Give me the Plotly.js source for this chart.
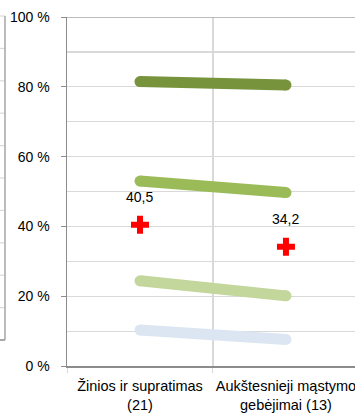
<!DOCTYPE html>
<html>
<head>
<meta charset="utf-8">
<script src="https://cdn.plot.ly/plotly-3.0.1.min.js"></script>
<style>html,body{margin:0;padding:0;background:#fff;}#chart{width:355px;height:414px;}</style>
</head>
<body>
<div id="chart"></div>
<script>
const categories = ["Žinios ir supratimas<br>(21)", "Aukštesnieji mąstymo<br>gebėjimai (13)"];
const series90 = [81.5, 80.5];
const series75 = [53.0, 49.7];
const series50 = [24.4, 20.1];
const series25 = [10.3, 7.6];
const average = [40.5, 34.2];
const yTickValues = [0, 20, 40, 60, 80, 100];

const bandColors = ["#77933C", "#9BBB59", "#C3D69B", "#DCE6F2"];
const bandSeries = [series90, series75, series50, series25];

const traces = bandSeries.map((vals, i) => ({
  type: "scatter",
  mode: "lines+markers",
  x: categories,
  y: vals,
  line: {color: bandColors[i], width: 11},
  marker: {color: bandColors[i], size: 11, symbol: "circle"},
  hoverinfo: "skip",
  cliponaxis: false
}));

traces.push({
  type: "scatter",
  mode: "markers",
  x: categories,
  y: average,
  marker: {color: "#FF0000", size: 15, symbol: "cross", line: {width: 0}},
  cliponaxis: false
});

const annotations = average.map((v, i) => ({
  x: categories[i],
  y: v,
  xref: "x",
  yref: "y",
  text: v.toFixed(1).replace(".", ","),
  showarrow: false,
  yshift: 28,
  font: {family: "Liberation Sans, Arial, sans-serif", size: 14, color: "#000"}
}));

// fragment of neighbouring chart at far left
const shapes = [];
const fragX = -0.2153, fragX0 = -0.24;
for (let k = 0; k <= 10; k++) {
  const yp = (366 - (340 - k * 32.4)) / 349;
  shapes.push({type: "line", xref: "paper", yref: "paper", x0: fragX0, x1: fragX, y0: yp, y1: yp,
    line: {color: k === 0 ? "#8C8C8C" : "#D9D9D9", width: k === 0 ? 1.5 : 1.2}});
}
shapes.push({type: "line", xref: "paper", yref: "paper", x0: fragX, x1: fragX,
  y0: (366 - 340) / 349, y1: (366 - 16) / 349, line: {color: "#A6A6A6", width: 1.5}});
// top border line at 100 %
shapes.push({type: "line", xref: "paper", yref: "y", x0: 0, x1: 1, y0: 100, y1: 100,
  line: {color: "#A6A6A6", width: 1.3}});

const layout = {
  width: 355,
  height: 414,
  margin: {l: 67, r: 0, t: 17, b: 48},
  paper_bgcolor: "#FFFFFF",
  plot_bgcolor: "#FFFFFF",
  showlegend: false,
  font: {family: "Liberation Sans, Arial, sans-serif", size: 14, color: "#000"},
  xaxis: {
    type: "category",
    range: [-0.5, 1.473],
    tickson: "boundaries",
    showgrid: true,
    gridcolor: "#D9D9D9",
    gridwidth: 1.5,
    showline: true,
    linecolor: "#8C8C8C",
    linewidth: 1.5,
    ticks: "outside",
    ticklen: 5,
    tickcolor: "#D9D9D9",
    ticklabelstandoff: 6,
    tickfont: {family: "Liberation Sans, Arial, sans-serif", size: 14.5, color: "#000"},
    fixedrange: true,
    zeroline: false
  },
  yaxis: {
    range: [0, 100],
    tickvals: yTickValues,
    ticktext: yTickValues.map(v => v + " %"),
    showgrid: true,
    gridcolor: "#D9D9D9",
    gridwidth: 1.2,
    minor: {dtick: 10, showgrid: true, gridcolor: "#D9D9D9", gridwidth: 1.2},
    showline: true,
    linecolor: "#8C8C8C",
    linewidth: 1.5,
    ticks: "outside",
    ticklen: 5,
    tickcolor: "#8C8C8C",
    ticklabelstandoff: 8,
    tickfont: {family: "Liberation Sans, Arial, sans-serif", size: 14, color: "#000"},
    zeroline: false,
    fixedrange: true
  },
  annotations: annotations,
  shapes: shapes
};

Plotly.newPlot("chart", traces, layout, {displayModeBar: false, staticPlot: true});
</script>
</body>
</html>
